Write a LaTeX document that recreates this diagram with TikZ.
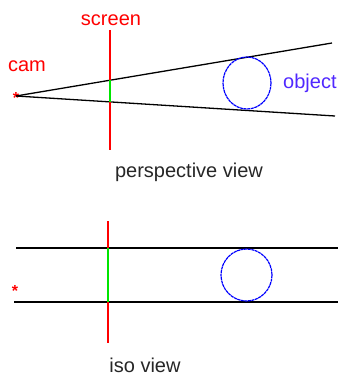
\documentclass[tikz,border=0pt]{standalone}
\usepackage{fontspec}
\setmainfont{Liberation Sans}
\begin{document}
\begin{tikzpicture}[x=1pt,y=-1pt,
  ray/.style={draw=black,line width=1.3pt},
  scr/.style={draw=red,line width=1.3pt},
  proj/.style={draw=green!90!black,line width=1.3pt},
  obj/.style={draw=blue,line width=1.2pt,dashed,dash pattern=on 3pt off 0.6pt},
  lbl/.style={font=\fontsize{20}{24}\selectfont,inner sep=0pt,anchor=base},
  star/.style={text=red,font=\bfseries\fontsize{16}{16}\selectfont,inner sep=0pt}]
\useasboundingbox (0,0) rectangle (338,375);
% perspective view
\node[star] (cam) at (16,98) {*};
\coordinate (camp) at (16,96);
\coordinate (u1) at (332,43);
\coordinate (l1) at (335,116);
\draw[ray] (camp) -- (u1);
\draw[ray] (camp) -- (l1);
\coordinate (st) at (110,30);
\coordinate (sb) at (110,150);
\coordinate (su) at (110,80);
\coordinate (sl) at (110,102);
\draw[scr] (st) -- (sb);
\draw[proj] (su) -- (sl);
\draw[obj] (247,83) circle [x radius=24, y radius=26];
\node[lbl,text=red] (screen) at (111,25) {screen};
\node[lbl,text=red] (camlbl) at (27,71) {cam};
\node[lbl,text={rgb,255:red,80;green,40;blue,255},anchor=base west] (object) at (283,88) {object};
\node[lbl,text=black!85] (persp) at (189,177) {perspective view};
% iso view
\node[star] (cam2) at (15,291) {*};
\coordinate (it1) at (16,248);
\coordinate (it2) at (338,248);
\coordinate (ib1) at (14,302);
\coordinate (ib2) at (338,302);
\draw[ray] (it1) -- (it2);
\draw[ray] (ib1) -- (ib2);
\coordinate (ist) at (108,221);
\coordinate (isb) at (108,343);
\coordinate (isu) at (108,248);
\coordinate (isl) at (108,302);
\draw[scr] (ist) -- (isb);
\draw[proj] (isu) -- (isl);
\draw[obj] (246.5,275) circle [x radius=25.5, y radius=26];
\node[lbl,text=black!85] (iso) at (145,372) {iso view};
\end{tikzpicture}
\end{document}
